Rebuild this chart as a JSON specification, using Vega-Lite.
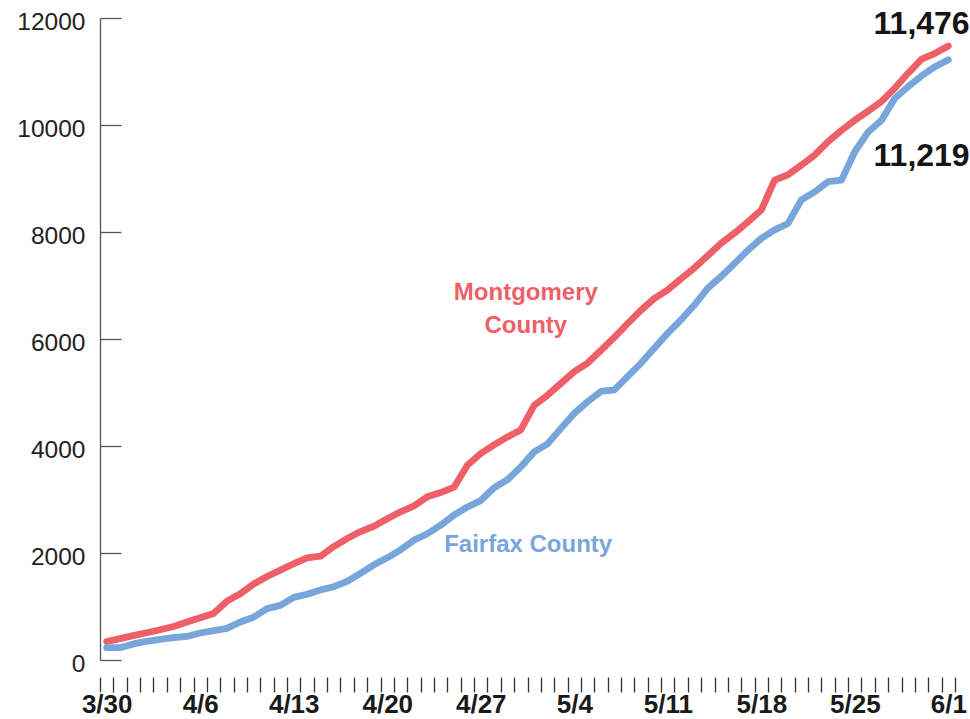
{
  "$schema": "https://vega.github.io/schema/vega-lite/v6.json",
  "width": 855,
  "height": 642,
  "autosize": {"type": "none"},
  "padding": {"left": 100, "top": 18, "right": 15, "bottom": 59},
  "background": "white",
  "config": {"view": {"stroke": null}},
  "layer": [
    {
      "data": {
        "values": [
          {"date": "2020-03-30", "Montgomery": 345, "Fairfax": 230},
          {"date": "2020-03-31", "Montgomery": 400, "Fairfax": 230},
          {"date": "2020-04-01", "Montgomery": 455, "Fairfax": 300},
          {"date": "2020-04-02", "Montgomery": 510, "Fairfax": 350},
          {"date": "2020-04-03", "Montgomery": 565, "Fairfax": 385},
          {"date": "2020-04-04", "Montgomery": 625, "Fairfax": 420},
          {"date": "2020-04-05", "Montgomery": 710, "Fairfax": 440},
          {"date": "2020-04-06", "Montgomery": 790, "Fairfax": 505},
          {"date": "2020-04-07", "Montgomery": 870, "Fairfax": 550},
          {"date": "2020-04-08", "Montgomery": 1100, "Fairfax": 590},
          {"date": "2020-04-09", "Montgomery": 1240, "Fairfax": 710},
          {"date": "2020-04-10", "Montgomery": 1420, "Fairfax": 800},
          {"date": "2020-04-11", "Montgomery": 1560, "Fairfax": 960},
          {"date": "2020-04-12", "Montgomery": 1680, "Fairfax": 1020},
          {"date": "2020-04-13", "Montgomery": 1800, "Fairfax": 1170},
          {"date": "2020-04-14", "Montgomery": 1910, "Fairfax": 1230},
          {"date": "2020-04-15", "Montgomery": 1940, "Fairfax": 1310},
          {"date": "2020-04-16", "Montgomery": 2120, "Fairfax": 1370},
          {"date": "2020-04-17", "Montgomery": 2270, "Fairfax": 1470},
          {"date": "2020-04-18", "Montgomery": 2400, "Fairfax": 1620},
          {"date": "2020-04-19", "Montgomery": 2500, "Fairfax": 1780},
          {"date": "2020-04-20", "Montgomery": 2640, "Fairfax": 1910},
          {"date": "2020-04-21", "Montgomery": 2770, "Fairfax": 2060},
          {"date": "2020-04-22", "Montgomery": 2880, "Fairfax": 2240},
          {"date": "2020-04-23", "Montgomery": 3050, "Fairfax": 2360},
          {"date": "2020-04-24", "Montgomery": 3130, "Fairfax": 2520},
          {"date": "2020-04-25", "Montgomery": 3230, "Fairfax": 2710},
          {"date": "2020-04-26", "Montgomery": 3640, "Fairfax": 2860},
          {"date": "2020-04-27", "Montgomery": 3860, "Fairfax": 2980},
          {"date": "2020-04-28", "Montgomery": 4020, "Fairfax": 3220},
          {"date": "2020-04-29", "Montgomery": 4170, "Fairfax": 3370},
          {"date": "2020-04-30", "Montgomery": 4300, "Fairfax": 3610},
          {"date": "2020-05-01", "Montgomery": 4760, "Fairfax": 3890},
          {"date": "2020-05-02", "Montgomery": 4950, "Fairfax": 4040},
          {"date": "2020-05-03", "Montgomery": 5170, "Fairfax": 4330},
          {"date": "2020-05-04", "Montgomery": 5390, "Fairfax": 4610},
          {"date": "2020-05-05", "Montgomery": 5550, "Fairfax": 4830},
          {"date": "2020-05-06", "Montgomery": 5790, "Fairfax": 5020},
          {"date": "2020-05-07", "Montgomery": 6030, "Fairfax": 5050},
          {"date": "2020-05-08", "Montgomery": 6290, "Fairfax": 5300},
          {"date": "2020-05-09", "Montgomery": 6540, "Fairfax": 5550},
          {"date": "2020-05-10", "Montgomery": 6760, "Fairfax": 5830},
          {"date": "2020-05-11", "Montgomery": 6920, "Fairfax": 6110},
          {"date": "2020-05-12", "Montgomery": 7130, "Fairfax": 6360},
          {"date": "2020-05-13", "Montgomery": 7330, "Fairfax": 6640},
          {"date": "2020-05-14", "Montgomery": 7560, "Fairfax": 6950},
          {"date": "2020-05-15", "Montgomery": 7790, "Fairfax": 7170},
          {"date": "2020-05-16", "Montgomery": 7980, "Fairfax": 7410},
          {"date": "2020-05-17", "Montgomery": 8190, "Fairfax": 7660},
          {"date": "2020-05-18", "Montgomery": 8410, "Fairfax": 7880},
          {"date": "2020-05-19", "Montgomery": 8970, "Fairfax": 8040},
          {"date": "2020-05-20", "Montgomery": 9070, "Fairfax": 8160},
          {"date": "2020-05-21", "Montgomery": 9250, "Fairfax": 8600},
          {"date": "2020-05-22", "Montgomery": 9440, "Fairfax": 8750},
          {"date": "2020-05-23", "Montgomery": 9690, "Fairfax": 8940},
          {"date": "2020-05-24", "Montgomery": 9900, "Fairfax": 8970},
          {"date": "2020-05-25", "Montgomery": 10090, "Fairfax": 9500},
          {"date": "2020-05-26", "Montgomery": 10260, "Fairfax": 9870},
          {"date": "2020-05-27", "Montgomery": 10440, "Fairfax": 10090},
          {"date": "2020-05-28", "Montgomery": 10690, "Fairfax": 10500},
          {"date": "2020-05-29", "Montgomery": 10970, "Fairfax": 10720},
          {"date": "2020-05-30", "Montgomery": 11230, "Fairfax": 10920},
          {"date": "2020-05-31", "Montgomery": 11340, "Fairfax": 11090},
          {"date": "2020-06-01", "Montgomery": 11476, "Fairfax": 11219}
        ]
      },
      "transform": [{"fold": ["Montgomery", "Fairfax"], "as": ["county", "cases"]}],
      "mark": {"type": "line", "strokeWidth": 6.8, "strokeJoin": "round", "strokeCap": "round"},
      "encoding": {
        "x": {
          "field": "date",
          "type": "temporal",
          "timeUnit": "utcyearmonthdate",
          "bandPosition": 0.5,
          "scale": {
            "type": "utc",
            "domain": [
              {"year": 2020, "month": 3, "date": 30, "utc": true},
              {"year": 2020, "month": 6, "date": 2, "utc": true}
            ],
            "nice": false
          },
          "axis": {
            "title": null,
            "domain": false,
            "offset": 17,
            "tickSize": 15,
            "tickColor": "#333333",
            "tickWidth": 1.3,
            "tickCount": {"interval": "day", "step": 1},
            "labelExpr": "(datum.value - 1585526400000) % 604800000 == 0 ? utcFormat(datum.value, '%-m/%-d') : ''",
            "labelOffset": 6.7,
            "labelFlush": false,
            "labelBound": false,
            "labelOverlap": false,
            "labelPadding": 20,
            "labelBaseline": "alphabetic",
            "labelFont": "Liberation Sans",
            "labelFontWeight": "bold",
            "labelFontSize": 26,
            "labelColor": "#1a1a1a",
            "grid": false
          }
        },
        "y": {
          "field": "cases",
          "type": "quantitative",
          "scale": {"domain": [0, 12000], "nice": false},
          "axis": {
            "title": null,
            "values": [0, 2000, 4000, 6000, 8000, 10000, 12000],
            "format": "d",
            "grid": false,
            "domainColor": "#555555",
            "domainWidth": 1.3,
            "tickColor": "#555555",
            "tickWidth": 1.3,
            "tickSize": -21,
            "labelPadding": 36,
            "labelOffset": 4,
            "labelFont": "Liberation Sans",
            "labelFontSize": 24.5,
            "labelColor": "#222222"
          }
        },
        "color": {
          "field": "county",
          "type": "nominal",
          "scale": {"domain": ["Montgomery", "Fairfax"], "range": ["#ee5f67", "#78a6db"]},
          "legend": null
        }
      }
    },
    {
      "data": {
        "values": [
          {"date": "2020-04-30", "value": 6860, "county": "Montgomery", "label": ["Montgomery", "County"]}
        ]
      },
      "mark": {"type": "text", "font": "Liberation Sans", "fontWeight": "bold", "fontSize": 24, "lineHeight": 33, "align": "center", "baseline": "middle", "dx": 5},
      "encoding": {
        "x": {"field": "date", "type": "temporal", "timeUnit": "utcyearmonthdate", "bandPosition": 0.5},
        "y": {"field": "value", "type": "quantitative"},
        "text": {"field": "label"},
        "color": {"field": "county", "type": "nominal", "legend": null}
      }
    },
    {
      "data": {
        "values": [
          {"date": "2020-05-01", "value": 2150, "county": "Fairfax", "label": "Fairfax County"}
        ]
      },
      "mark": {"type": "text", "font": "Liberation Sans", "fontWeight": "bold", "fontSize": 24, "align": "center", "baseline": "middle", "dx": -6},
      "encoding": {
        "x": {"field": "date", "type": "temporal", "timeUnit": "utcyearmonthdate", "bandPosition": 0.5},
        "y": {"field": "value", "type": "quantitative"},
        "text": {"field": "label"},
        "color": {"field": "county", "type": "nominal", "legend": null}
      }
    },
    {
      "data": {
        "values": [
          {"date": "2020-05-30", "value": 11880, "label": "11,476"},
          {"date": "2020-05-30", "value": 9420, "label": "11,219"}
        ]
      },
      "mark": {"type": "text", "font": "Liberation Sans", "fontWeight": "bold", "fontSize": 32, "align": "center", "baseline": "middle", "color": "#151515"},
      "encoding": {
        "x": {"field": "date", "type": "temporal", "timeUnit": "utcyearmonthdate", "bandPosition": 0.5},
        "y": {"field": "value", "type": "quantitative"},
        "text": {"field": "label"}
      }
    }
  ]
}
